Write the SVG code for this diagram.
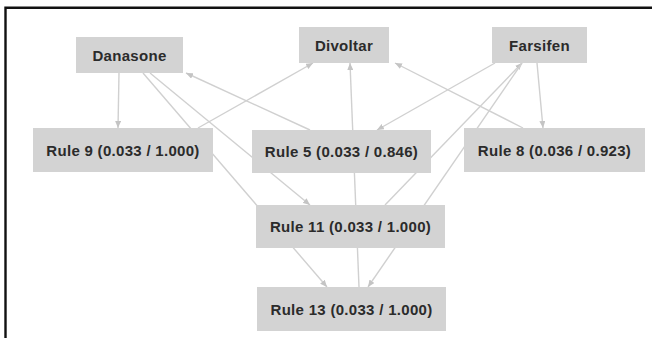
<svg xmlns="http://www.w3.org/2000/svg" width="652" height="338" viewBox="0 0 652 338">
<style>
.node rect{fill:#d3d3d3;stroke:none}
.node text{font-family:"Liberation Sans",Arial,sans-serif;font-weight:bold;font-size:15px;letter-spacing:0.3px;fill:#2b2b2b;text-anchor:middle}
.edge{stroke:#d0d0d0;stroke-width:1.4;fill:none;marker-end:url(#arr)}
.frame{stroke:#111;stroke-width:2.4;fill:none}
</style>
<defs>
<marker id="arr" markerWidth="7" markerHeight="6" refX="7" refY="3" orient="auto" markerUnits="userSpaceOnUse">
<path d="M0,0 L7,3 L0,6 Z" fill="#c4c4c4"/>
</marker>
</defs>
<rect width="652" height="338" fill="#fff"/>
<path class="frame" d="M5.5,338 V7.8 H652"/>
<g id="connectors">
<line class="edge" x1="119" y1="73" x2="118" y2="128"/>
<line class="edge" x1="198" y1="128" x2="313" y2="63"/>
<line class="edge" x1="150" y1="73" x2="310" y2="205"/>
<line class="edge" x1="143" y1="73" x2="327" y2="287"/>
<line class="edge" x1="310" y1="130" x2="186" y2="73"/>
<line class="edge" x1="359" y1="287" x2="350" y2="63"/>
<line class="edge" x1="523" y1="128" x2="395" y2="63"/>
<line class="edge" x1="495" y1="63" x2="377" y2="130"/>
<line class="edge" x1="537" y1="63" x2="543" y2="128"/>
<line class="edge" x1="385" y1="205" x2="522" y2="63"/>
<line class="edge" x1="522" y1="63" x2="368" y2="287"/>
</g>
<g id="danasone" class="node"><rect x="76" y="37" width="107" height="36"/><text x="129.5" y="60.5">Danasone</text></g>
<g id="divoltar" class="node"><rect x="299" y="27" width="90" height="36"/><text x="344" y="50.5">Divoltar</text></g>
<g id="farsifen" class="node"><rect x="492" y="27" width="95" height="36"/><text x="539.5" y="50.5">Farsifen</text></g>
<g id="rule9" class="node"><rect x="33" y="128" width="180" height="44"/><text x="123" y="155.5">Rule 9 (0.033 / 1.000)</text></g>
<g id="rule5" class="node"><rect x="252" y="130" width="179" height="43"/><text x="341.5" y="157">Rule 5 (0.033 / 0.846)</text></g>
<g id="rule8" class="node"><rect x="464" y="128" width="181" height="44"/><text x="554.5" y="155.5">Rule 8 (0.036 / 0.923)</text></g>
<g id="rule11" class="node"><rect x="256" y="205" width="189" height="43"/><text x="350.5" y="232">Rule 11 (0.033 / 1.000)</text></g>
<g id="rule13" class="node"><rect x="257" y="287" width="189" height="44"/><text x="351.5" y="314.5">Rule 13 (0.033 / 1.000)</text></g>
</svg>
